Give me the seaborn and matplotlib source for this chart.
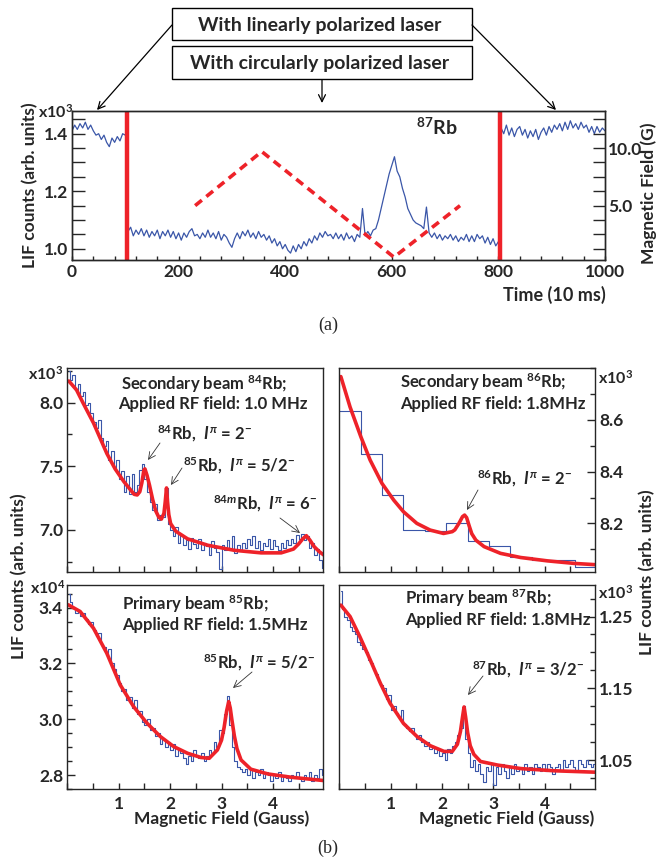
import numpy as np
import matplotlib
matplotlib.use('Agg')
import matplotlib.pyplot as plt
import seaborn as sns
from matplotlib.patches import Rectangle
from matplotlib.ticker import MultipleLocator, FixedLocator, FormatStrFormatter

# ---------------- (a) LIF time trace of 87Rb ----------------
t_lin_a = np.arange(0, 101, 5)
lif_lin_a = [1.41, 1.43, 1.415, 1.435, 1.42, 1.44, 1.415, 1.43, 1.41, 1.395,
             1.40, 1.38, 1.395, 1.37, 1.355, 1.385, 1.37, 1.39, 1.375, 1.40, 1.395]

t_circ = np.arange(105, 801, 5)
lif_circ = [1.06, 1.075, 1.045, 1.065, 1.05, 1.07, 1.045, 1.065, 1.04, 1.06,
            1.045, 1.065, 1.035, 1.06, 1.045, 1.065, 1.04, 1.06, 1.035, 1.055,
            1.03, 1.055, 1.04, 1.06, 1.07, 1.045, 1.05, 1.035, 1.055, 1.04,
            1.065, 1.04, 1.055, 1.035, 1.06, 1.03, 1.05, 1.04, 1.02, 1.005,
            1.035, 1.055, 1.035, 1.06, 1.045, 1.065, 1.04, 1.055, 1.035, 1.06,
            1.04, 1.05, 1.03, 1.045, 1.02, 1.035, 1.01, 1.025, 1.0, 1.015,
            0.995, 0.985, 1.01, 0.99, 1.015, 1.0, 1.025, 1.01, 1.035, 1.02,
            1.045, 1.03, 1.055, 1.04, 1.06, 1.045, 1.05, 1.035, 1.055, 1.035,
            1.05, 1.03, 1.055, 1.035, 1.045, 1.025, 1.05, 1.04, 1.14, 1.045,
            1.06, 1.045, 1.065, 1.07, 1.10, 1.14, 1.18, 1.22, 1.26, 1.29,
            1.32, 1.27, 1.25, 1.21, 1.18, 1.14, 1.12, 1.10, 1.09, 1.085,
            1.08, 1.07, 1.145, 1.055, 1.04, 1.055, 1.035, 1.05, 1.03, 1.045,
            1.035, 1.05, 1.03, 1.045, 1.025, 1.04, 1.03, 1.05, 1.025, 1.045,
            1.025, 1.05, 1.035, 1.045, 1.02, 1.04, 1.015, 1.035, 1.01, 1.025]

t_lin_b = np.arange(805, 1001, 5)
lif_lin_b = [1.42, 1.40, 1.43, 1.395, 1.42, 1.39, 1.415, 1.425, 1.395,
             1.415, 1.385, 1.41, 1.39, 1.415, 1.38, 1.405, 1.42, 1.395, 1.425,
             1.405, 1.43, 1.415, 1.435, 1.41, 1.44, 1.415, 1.445, 1.42, 1.435,
             1.415, 1.44, 1.42, 1.43, 1.405, 1.425, 1.40, 1.425, 1.405, 1.42, 1.41]

ramp_t = [231, 356, 604, 728]
ramp_b = [5.0, 9.7, 0.52, 5.0]
switch_t = [103, 803]

# ---------------- (b) RF resonance scans ----------------
b_x = np.arange(100) * 0.05 + 0.025

lif84 = [8.25, 8.18, 8.22, 8.10, 8.15, 8.05, 8.08, 7.98, 8.00, 7.92,
         7.85, 7.80, 7.86, 7.72, 7.66, 7.70, 7.55, 7.62, 7.48, 7.55,
         7.40, 7.46, 7.30, 7.42, 7.28, 7.44, 7.30, 7.35, 7.47, 7.52,
         7.40, 7.30, 7.22, 7.16, 7.20, 7.08, 7.12, 7.10, 7.33, 7.05,
         7.00, 6.95, 7.02, 6.90, 6.96, 6.88, 6.92, 6.85, 6.94, 6.89,
         6.86, 6.93, 6.84, 6.90, 6.87, 6.80, 6.91, 6.86, 6.83, 6.69,
         6.88, 6.84, 6.92, 6.85, 6.95, 6.82, 6.88, 6.84, 6.90, 6.86,
         6.93, 6.88, 6.95, 6.86, 6.91, 6.84, 6.90, 6.87, 6.93, 6.85,
         6.92, 6.87, 6.84, 6.90, 6.86, 6.92, 6.88, 6.93, 6.90, 6.96,
         6.93, 6.97, 6.92, 6.95, 6.86, 6.90, 6.80, 6.85, 6.76, 6.70]
fit84_x = [0.03, 0.18, 0.31, 0.51, 0.64, 0.77, 0.93, 1.10, 1.26, 1.30, 1.36, 1.41, 1.45,
           1.49, 1.51, 1.55, 1.60, 1.66, 1.72, 1.78, 1.83, 1.88, 1.905, 1.93, 1.95, 1.975,
           2.01, 2.11, 2.34, 2.73, 3.25, 3.77, 4.16, 4.40, 4.50, 4.58, 4.65, 4.72, 4.80,
           4.90, 5.0]
fit84_y = [8.17, 8.10, 7.995, 7.84, 7.72, 7.60, 7.48, 7.38, 7.30, 7.28, 7.275, 7.30, 7.37,
           7.47, 7.48, 7.43, 7.35, 7.24, 7.15, 7.10, 7.085, 7.13, 7.22, 7.33, 7.22, 7.12,
           7.05, 6.99, 6.93, 6.88, 6.84, 6.82, 6.82, 6.85, 6.89, 6.93, 6.955, 6.92, 6.87,
           6.83, 6.80]

edges86 = np.linspace(0, 5, 13)
lif86 = [8.636, 8.47, 8.31, 8.174, 8.17, 8.20, 8.133, 8.112, 8.068, 8.058, 8.058, 8.03]
fit86_x = [0.03, 0.21, 0.42, 0.6, 0.83, 1.06, 1.25, 1.51, 1.77, 2.03, 2.2, 2.25, 2.33, 2.40,
           2.44, 2.48, 2.53, 2.58, 2.66, 2.82, 3.14, 3.53, 4.05, 4.58, 5.0]
fit86_y = [8.768, 8.65, 8.535, 8.445, 8.355, 8.29, 8.245, 8.2, 8.174, 8.161, 8.168, 8.175,
           8.20, 8.226, 8.232, 8.222, 8.19, 8.16, 8.135, 8.11, 8.084, 8.068, 8.055, 8.045, 8.04]

lif85 = [3.45, 3.42, 3.40, 3.38, 3.39, 3.37, 3.38, 3.36, 3.34, 3.35,
         3.32, 3.30, 3.31, 3.27, 3.26, 3.23, 3.25, 3.20, 3.18, 3.16,
         3.13, 3.10, 3.11, 3.07, 3.08, 3.04, 3.07, 3.02, 3.03, 2.99,
         2.98, 3.00, 2.96, 2.97, 2.94, 2.95, 2.91, 2.93, 2.90, 2.92,
         2.89, 2.91, 2.87, 2.89, 2.88, 2.86, 2.84, 2.87, 2.85, 2.89,
         2.87, 2.86, 2.88, 2.85, 2.87, 2.89, 2.88, 2.92, 2.90, 2.96,
         2.95, 3.02, 3.085, 2.98, 2.90, 2.85, 2.83, 2.82, 2.81, 2.82,
         2.80, 2.82, 2.79, 2.81, 2.80, 2.82, 2.79, 2.81, 2.80, 2.78,
         2.80, 2.79, 2.81, 2.78, 2.80, 2.79, 2.78, 2.80, 2.79, 2.81,
         2.79, 2.78, 2.80, 2.79, 2.81, 2.78, 2.80, 2.79, 2.82, 2.80]
fit85_x = [0.02, 0.25, 0.51, 0.77, 1.03, 1.29, 1.55, 1.81, 2.07, 2.34, 2.6, 2.76, 2.92, 3.0,
           3.05, 3.1, 3.14, 3.17, 3.2, 3.25, 3.3, 3.38, 3.57, 3.9, 4.36, 5.0]
fit85_y = [3.41, 3.386, 3.326, 3.236, 3.123, 3.045, 2.986, 2.938, 2.902, 2.878, 2.863, 2.86,
           2.89, 2.925, 2.97, 3.03, 3.063, 3.04, 3.0, 2.94, 2.895, 2.854, 2.821, 2.804, 2.792, 2.78]

lif87 = [1.285, 1.26, 1.25, 1.245, 1.235, 1.23, 1.225, 1.215, 1.21, 1.205,
         1.20, 1.19, 1.185, 1.175, 1.17, 1.16, 1.155, 1.15, 1.135, 1.14,
         1.12, 1.125, 1.115, 1.11, 1.12, 1.10, 1.095, 1.09, 1.095, 1.085,
         1.08, 1.085, 1.075, 1.07, 1.075, 1.065, 1.07, 1.06, 1.065, 1.055,
         1.06, 1.05, 1.065, 1.06, 1.07, 1.075, 1.085, 1.095, 1.125, 1.08,
         1.06, 1.04, 1.05, 1.035, 1.045, 1.03, 1.02, 1.04, 1.035, 1.045,
         1.015, 1.04, 1.03, 1.045, 1.035, 1.025, 1.04, 1.03, 1.045, 1.035,
         1.04, 1.03, 1.045, 1.035, 1.04, 1.03, 1.045, 1.04, 1.035, 1.045,
         1.035, 1.045, 1.04, 1.03, 1.04, 1.045, 1.035, 1.05, 1.04, 1.045,
         1.05, 1.04, 1.035, 1.05, 1.045, 1.04, 1.05, 1.045, 1.04, 1.045]
fit87_x = [0.03, 0.21, 0.4, 0.6, 0.8, 0.99, 1.25, 1.51, 1.77, 2.04, 2.2, 2.3, 2.36, 2.4, 2.43,
           2.46, 2.5, 2.55, 2.62, 2.75, 3.08, 3.54, 4.19, 5.0]
fit87_y = [1.266, 1.25, 1.222, 1.19, 1.157, 1.129, 1.101, 1.083, 1.07, 1.062, 1.062, 1.072,
           1.09, 1.11, 1.124, 1.11, 1.088, 1.07, 1.058, 1.048, 1.043, 1.038, 1.035, 1.033]

# ---------------- styling ----------------
sns.set_style('ticks')
plt.rcParams['font.family'] = ['Lato', 'DejaVu Sans']
plt.rcParams['font.weight'] = 'bold'
plt.rcParams['mathtext.fontset'] = 'custom'
plt.rcParams['mathtext.rm'] = 'Lato:bold'
plt.rcParams['mathtext.it'] = 'Lato:bold:italic'
plt.rcParams['mathtext.bf'] = 'Lato:bold'
plt.rcParams['axes.linewidth'] = 1.0

BLUE = '#3a56a8'
RED = '#ee2229'
W, H = 657, 865
TICK_FS = 12.5

fig = plt.figure(figsize=(6.57, 8.65), dpi=100)


def fx(px):
    return px / W


def fy(py):
    return 1 - py / H


def add_ax(l, t, r, b):
    return fig.add_axes([fx(l), fy(b), (r - l) / W, (b - t) / H])


def ftext(px, py, s, **kw):
    kw.setdefault('fontsize', 12)
    kw.setdefault('fontweight', 'bold')
    fig.text(fx(px), fy(py), s, **kw)


def farrow(x0, y0, x1, y1, lw=0.9, color='black'):
    fig.add_artist(matplotlib.patches.FancyArrowPatch(
        (fx(x0), fy(y0)), (fx(x1), fy(y1)), transform=fig.transFigure,
        arrowstyle='->,head_length=5,head_width=2.5', lw=lw, color=color,
        shrinkA=0, shrinkB=0))


# ---------------- panel (a) ----------------
ax = add_ax(72, 110.7, 605, 260)
sns.lineplot(x=t_lin_a, y=lif_lin_a, ax=ax, color=BLUE, lw=0.9)
sns.lineplot(x=t_circ, y=lif_circ, ax=ax, color=BLUE, lw=0.9)
sns.lineplot(x=t_lin_b, y=lif_lin_b, ax=ax, color=BLUE, lw=0.9)
for t in switch_t:
    ax.axvline(t, color=RED, lw=3.2)
ax.set_xlim(0, 1000)
ax.set_ylim(0.961, 1.48)
ax.set_xlabel('')
ax.set_ylabel('')
ax.xaxis.set_major_locator(MultipleLocator(200))
ax.xaxis.set_minor_locator(MultipleLocator(40))
ax.yaxis.set_major_locator(FixedLocator([1.0, 1.2, 1.4]))
ax.yaxis.set_minor_locator(MultipleLocator(0.05))
ax.yaxis.set_major_formatter(FormatStrFormatter('%.1f'))
ax.tick_params(axis='y', which='both', direction='in', length=9, width=1, left=True, right=False,
               labelsize=TICK_FS, pad=3)
ax.tick_params(axis='x', which='both', direction='in', length=3, width=1, top=False,
               labelsize=TICK_FS, pad=3)

axb = ax.twinx()
sns.lineplot(x=ramp_t, y=ramp_b, ax=axb, color=RED, lw=2.6, linestyle=(0, (2.4, 1.6)))
axb.set_ylim(0.275, 13.25)
axb.set_ylabel('')
axb.yaxis.set_major_locator(FixedLocator([5.0, 10.0]))
axb.yaxis.set_minor_locator(MultipleLocator(1.25))
axb.yaxis.set_major_formatter(FormatStrFormatter('%.1f'))
axb.tick_params(axis='y', which='both', direction='in', length=9, width=1, labelsize=TICK_FS, pad=2)

ftext(73, 112, 'x10$^{3}$', ha='right', va='center', fontsize=11.5)
ftext(437, 127, '$^{87}$Rb', ha='center', va='center', fontsize=14)
ftext(30, 185, 'LIF counts (arb. units)', rotation=90, ha='center', va='center', fontsize=12.5)
ftext(649, 193, 'Magnetic Field (G)', rotation=90, ha='center', va='center', fontsize=12.5)
ftext(606, 295, 'Time (10 ms)', ha='right', va='center', fontsize=13)

for top, bot, label in [(8, 40, 'With linearly polarized laser'),
                        (46, 79, 'With circularly polarized laser')]:
    fig.add_artist(Rectangle((fx(172), fy(bot)), (472 - 172) / W, (bot - top) / H,
                             transform=fig.transFigure, facecolor='white',
                             edgecolor='black', lw=1.0))
    ftext(320, (top + bot) / 2 + 1, label, ha='center', va='center', fontsize=14)
farrow(172, 25, 97, 110)
farrow(472, 25, 556, 110)
farrow(322, 80, 322, 103)

ftext(328, 325, '(a)', ha='center', va='center', fontsize=13, fontweight='normal',
      family='Liberation Serif')
ftext(328, 848, '(b)', ha='center', va='center', fontsize=13, fontweight='normal',
      family='Liberation Serif')


# ---------------- panels (b) ----------------
def style_panel(ax, ylim, majors, minor, fmt, right, bottom):
    ax.set_xlim(0, 4.98)
    ax.set_ylim(*ylim)
    ax.set_xlabel('')
    ax.set_ylabel('')
    ax.xaxis.set_major_locator(FixedLocator([1, 2, 3, 4]))
    ax.xaxis.set_minor_locator(MultipleLocator(0.5))
    ax.yaxis.set_major_locator(FixedLocator(majors))
    ax.yaxis.set_minor_locator(MultipleLocator(minor))
    ax.yaxis.set_major_formatter(FormatStrFormatter(fmt))
    ax.tick_params(axis='x', which='both', direction='in', length=4.5, width=1, top=False,
                   labelbottom=bottom, labelsize=TICK_FS, pad=5)
    if right:
        ax.yaxis.tick_right()
    ax.tick_params(axis='y', which='major', direction='in', length=6, width=1, labelsize=TICK_FS,
                   pad=3, left=not right, right=right)
    ax.tick_params(axis='y', which='minor', direction='in', length=3.5, width=1,
                   left=not right, right=right)


panels = [
    (67.3, 368.3, 323.3, 571.7, b_x, lif84, fit84_x, fit84_y, (6.672, 8.27), [7.0, 7.5, 8.0], 0.25, '%.1f', False, False),
    (339.3, 368.3, 595, 571.7, edges86, lif86 + [lif86[-1]], fit86_x, fit86_y, (8.013, 8.8), [8.2, 8.4, 8.6], 0.1, '%.1f', True, False),
    (67.3, 585, 323.3, 789, b_x, lif85, fit85_x, fit85_y, (2.75, 3.481), [2.8, 3.0, 3.2, 3.4], 0.05, '%.1f', False, True),
    (339.3, 585, 595, 789, b_x, lif87, fit87_x, fit87_y, (1.0096, 1.294), [1.05, 1.15, 1.25], 0.025, '%.2f', True, True),
]
for i, (l, t, r, b, xs, ys, fxs, fys, ylim, majors, minor, fmt, right, bottom) in enumerate(panels):
    a = add_ax(l, t, r, b)
    step = 'steps-post' if i == 1 else 'steps-mid'
    sns.lineplot(x=xs, y=ys, ax=a, color=BLUE, lw=0.8, drawstyle=step)
    sns.lineplot(x=fxs, y=fys, ax=a, color=RED, lw=2.6)
    style_panel(a, ylim, majors, minor, fmt, right, bottom)

# headings
ftext(121, 384, 'Secondary beam $^{84}$Rb;', ha='left', va='center')
ftext(118, 404, 'Applied RF field: 1.0 MHz', ha='left', va='center')
ftext(400, 382, 'Secondary beam $^{86}$Rb;', ha='left', va='center')
ftext(400, 404, 'Applied RF field: 1.8MHz', ha='left', va='center')
ftext(122, 604, 'Primary beam $^{85}$Rb;', ha='left', va='center')
ftext(122, 625, 'Applied RF field: 1.5MHz', ha='left', va='center')
ftext(405, 598, 'Primary beam $^{87}$Rb;', ha='left', va='center')
ftext(405, 620, 'Applied RF field: 1.8MHz', ha='left', va='center')

# peak labels
ftext(157, 434, '$^{84}$Rb,  $I^{\\pi}$ = 2$^{-}$', ha='left', va='center')
ftext(183, 466, '$^{85}$Rb,  $I^{\\pi}$ = 5/2$^{-}$', ha='left', va='center')
ftext(213, 504, '$^{84m}$Rb,  $I^{\\pi}$ = 6$^{-}$', ha='left', va='center')
ftext(477, 479, '$^{86}$Rb,  $I^{\\pi}$ = 2$^{-}$', ha='left', va='center')
ftext(203, 663, '$^{85}$Rb,  $I^{\\pi}$ = 5/2$^{-}$', ha='left', va='center')
ftext(472, 670, '$^{87}$Rb,  $I^{\\pi}$ = 3/2$^{-}$', ha='left', va='center')
farrow(160, 443, 148, 460, lw=0.6, color='#333333')
farrow(182, 468, 171, 485, lw=0.6, color='#333333')
farrow(280, 518, 300, 533, lw=0.6, color='#333333')
farrow(478, 490, 467, 510, lw=0.6, color='#333333')
farrow(252, 672, 233, 688, lw=0.6, color='#333333')
farrow(483, 676, 468, 695, lw=0.6, color='#333333')

# multipliers
ftext(63, 374, 'x10$^{3}$', ha='right', va='center', fontsize=11.5)
ftext(598, 378, 'x10$^{3}$', ha='left', va='center', fontsize=11.5)
ftext(65, 588, 'x10$^{4}$', ha='right', va='center', fontsize=11.5)
ftext(598, 593, 'x10$^{3}$', ha='left', va='center', fontsize=11.5)

ftext(19, 576, 'LIF counts (arb. units)', rotation=90, ha='center', va='center', fontsize=12.5)
ftext(647, 572, 'LIF counts (arb. units)', rotation=90, ha='center', va='center', fontsize=12.5)
ftext(222, 819, 'Magnetic Field (Gauss)', ha='center', va='center', fontsize=12.5)
ftext(507, 819, 'Magnetic Field (Gauss)', ha='center', va='center', fontsize=12.5)

fig.savefig('out.png', dpi=100)
